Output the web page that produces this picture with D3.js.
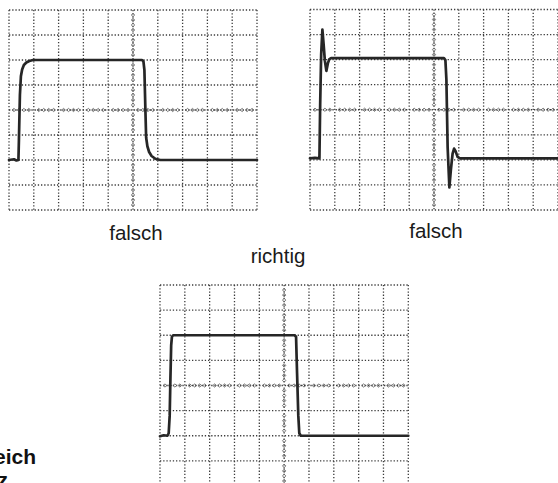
<!DOCTYPE html>
<html><head><meta charset="utf-8">
<script src="https://cdn.jsdelivr.net/npm/d3@7"></script>
<style>html,body{margin:0;padding:0;background:#fff;}svg{display:block;}</style>
</head><body>
<svg id="c" width="558" height="483"></svg>
<script>
// Trace data in screen divisions: [time (div), voltage (div)], 10 x 8 graticule
const traceSlowRise = [
  [0,-2],[0.2,-1.97],[0.3,-2.02],[0.38,-2],[0.40,-1.2],[0.44,0.6],[0.48,1.35],[0.53,1.62],
  [0.6,1.8],[0.7,1.9],[0.82,1.96],[0.97,2.0],[5.36,2.0],[5.42,1.95],[5.46,1.6],[5.50,0],
  [5.53,-1.1],[5.58,-1.45],[5.65,-1.68],[5.75,-1.84],[5.9,-1.95],[6.1,-2.0],[10,-2.0]
];
const traceOvershoot = [
  [0,-1.94],[0.2,-1.92],[0.38,-1.94],[0.41,0.2],[0.45,2.2],[0.50,3.2],[0.55,2.6],[0.60,1.95],
  [0.66,1.55],[0.72,1.85],[0.78,2.02],[0.85,2.06],[5.40,2.06],[5.46,1.98],[5.50,1.2],
  [5.55,-1.5],[5.62,-3.1],[5.68,-2.4],[5.75,-1.75],[5.81,-1.55],[5.87,-1.65],[5.95,-1.88],
  [6.05,-1.94],[10,-1.94]
];
const traceCorrect = [
  [0,-2.02],[0.15,-1.98],[0.3,-2.0],[0.35,-1.9],[0.39,-1.2],[0.42,0.3],[0.45,1.6],[0.48,1.94],
  [0.53,2.0],[5.42,2.0],[5.48,1.94],[5.52,0.5],[5.57,-1.2],[5.61,-1.9],[5.67,-2.0],[10,-2.0]
];
const labelsWrong = ["falsch","falsch"];
const labelRight = "richtig";
const sideText = ["eich","z"];

const svg = d3.select("#c");

function screen(cfg, data) {
  const x = d3.scaleLinear().domain([0,10]).range([cfg.x0, cfg.x0 + cfg.w]);
  const y = d3.scaleLinear().domain([-4,4]).range([cfg.y0 + cfg.h, cfg.y0]);
  const g = svg.append("g");
  const grid = g.append("g")
    .attr("stroke","#3c3c3c").attr("stroke-width",1.3)
    .attr("stroke-dasharray","1.3 1.9").attr("fill","none");
  grid.selectAll("line.v").data(d3.range(0,11)).join("line")
    .attr("x1",d=>x(d)).attr("x2",d=>x(d)).attr("y1",y(4)).attr("y2",y(-4));
  grid.selectAll("line.h").data(d3.range(-4,5)).join("line").attr("class","h")
    .attr("x1",x(0)).attr("x2",x(10)).attr("y1",d=>y(d)).attr("y2",d=>y(d));
  // center axis subdivision marks
  const mk = g.append("g").attr("fill","none").attr("stroke","#666").attr("stroke-width",0.9);
  const hs = d3.range(0,50).map(i=>i*0.2).filter(v=>Math.abs(v-Math.round(v))>0.01);
  mk.selectAll("path.h").data(hs).join("path").attr("class","h")
    .attr("d",d=>{const cx=x(d),cy=y(0);return `M${cx-1.8},${cy}L${cx},${cy-1.6}L${cx+1.8},${cy}L${cx},${cy+1.6}Z`;});
  const vs = d3.range(-20,20).map(i=>i*0.2).filter(v=>Math.abs(v-Math.round(v))>0.01);
  mk.selectAll("path.v").data(vs).join("path").attr("class","v")
    .attr("d",d=>{const cx=x(5),cy=y(d);return `M${cx-1.6},${cy}L${cx},${cy-1.8}L${cx+1.6},${cy}L${cx},${cy+1.8}Z`;});
  const line = d3.line().x(d=>x(d[0])).y(d=>y(d[1])).curve(d3.curveLinear);
  g.append("path").datum(data).attr("d",line)
    .attr("fill","none").attr("stroke","#262626").attr("stroke-width",2.7)
    .attr("stroke-linejoin","round").attr("stroke-linecap","round");
}

screen({x0:9, y0:10, w:248, h:200}, traceSlowRise);
screen({x0:310, y0:9.5, w:248, h:200.5}, traceOvershoot);
screen({x0:160, y0:285, w:248.3, h:201}, traceCorrect);

const txt = svg.append("g").attr("font-family","'Liberation Sans', Arial, sans-serif")
  .attr("fill","#1a1a1a").attr("text-anchor","middle").attr("font-size",20.5);
txt.append("text").attr("x",136).attr("y",240).text(labelsWrong[0]);
txt.append("text").attr("x",436).attr("y",237.5).text(labelsWrong[1]);
txt.append("text").attr("x",278).attr("y",263).text(labelRight);
const side = svg.append("g").attr("font-family","'Liberation Sans', Arial, sans-serif")
  .attr("font-weight","bold").attr("font-size",21).attr("fill","#111").attr("text-anchor","end");
side.append("text").attr("x",36).attr("y",464).text(sideText[0]);
side.append("text").attr("x",8).attr("y",487).text(sideText[1]);
</script>
</body></html>
